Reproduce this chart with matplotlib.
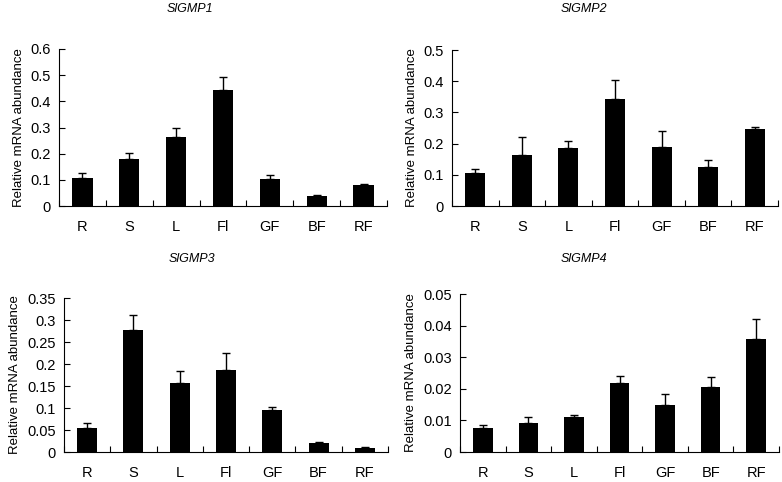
import matplotlib
matplotlib.use("Agg")
import matplotlib.pyplot as plt
import numpy as np

plt.rcParams['font.family'] = ['Liberation Sans', 'DejaVu Sans']

tissues = ['R', 'S', 'L', 'Fl', 'GF', 'BF', 'RF']

# mean values and upper error (SD)
gmp1 = [0.108, 0.179, 0.264, 0.444, 0.105, 0.037, 0.080]
gmp1_err = [0.018, 0.023, 0.034, 0.050, 0.012, 0.004, 0.004]

gmp2 = [0.106, 0.162, 0.186, 0.344, 0.190, 0.124, 0.246]
gmp2_err = [0.014, 0.060, 0.021, 0.061, 0.049, 0.024, 0.007]

gmp3 = [0.055, 0.278, 0.156, 0.187, 0.096, 0.020, 0.010]
gmp3_err = [0.011, 0.033, 0.028, 0.037, 0.006, 0.003, 0.0005]

gmp4 = [0.0076, 0.0091, 0.0112, 0.0217, 0.0148, 0.0207, 0.0358]
gmp4_err = [0.0008, 0.0020, 0.0006, 0.0024, 0.0037, 0.0031, 0.0063]

W, H = 782, 482
fig = plt.figure(figsize=(W / 100, H / 100), dpi=100)


def px_axes(left, right, top, bottom):
    return fig.add_axes([left / W, 1 - bottom / H, (right - left) / W, (bottom - top) / H])


panels = [
    # (title, vals, errs, ymax, yticks, ticklabels, axes box px, title pos px)
    ('SlGMP1', gmp1, gmp1_err, 0.6, np.arange(0, 0.61, 0.1),
     ['0', '0.1', '0.2', '0.3', '0.4', '0.5', '0.6'], (59, 387, 49, 206), (190, 9)),
    ('SlGMP2', gmp2, gmp2_err, 0.5, np.arange(0, 0.51, 0.1),
     ['0', '0.1', '0.2', '0.3', '0.4', '0.5'], (452, 778, 50, 206), (584, 9)),
    ('SlGMP3', gmp3, gmp3_err, 0.35, np.arange(0, 0.351, 0.05),
     ['0', '0.05', '0.1', '0.15', '0.2', '0.25', '0.3', '0.35'], (64, 388, 298, 452), (192, 259)),
    ('SlGMP4', gmp4, gmp4_err, 0.05, np.arange(0, 0.051, 0.01),
     ['0', '0.01', '0.02', '0.03', '0.04', '0.05'], (460, 779, 294, 452), (584, 259)),
]

x = np.arange(len(tissues))
for title, vals, errs, ymax, yt, ytl, box, tpos in panels:
    ax = px_axes(*box)
    ax.bar(x, vals, width=0.43, color='black', zorder=2)
    ax.errorbar(x, vals, yerr=[np.zeros(len(vals)), errs], fmt='none',
                ecolor='black', elinewidth=1, capsize=3, capthick=1, zorder=1)
    ax.set_xlim(-0.5, len(tissues) - 0.5)
    ax.set_ylim(0, ymax)
    ax.set_yticks(yt)
    ax.set_yticklabels(ytl, fontsize=10.5)
    ax.set_xticks(x)
    ax.set_xticklabels(tissues, fontsize=10.5)
    ax.tick_params(axis='x', length=0, pad=10)
    ax.set_xticks(np.arange(-0.5, len(tissues) + 0.5, 1), minor=True)
    ax.tick_params(axis='x', which='minor', length=4, width=0.8, direction='in')
    ax.tick_params(axis='y', length=4, width=0.8, direction='in', pad=6)
    for s in ['top', 'right']:
        ax.spines[s].set_visible(False)
    for s in ['left', 'bottom']:
        ax.spines[s].set_linewidth(0.8)
    ax.set_ylabel('Relative mRNA abundance', fontsize=9.5, labelpad=4)
    fig.text(tpos[0] / W, 1 - tpos[1] / H, title, fontsize=9, style='italic',
             ha='center', va='center')

fig.savefig('out.png', dpi=100)
